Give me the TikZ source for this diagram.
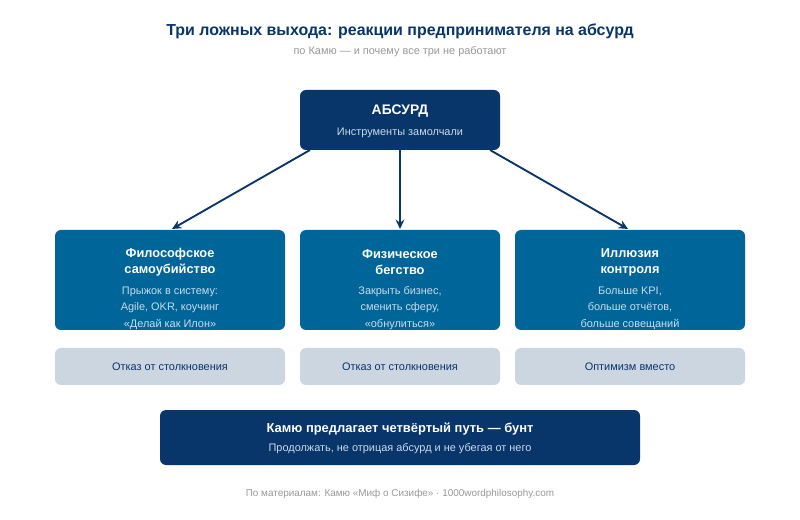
\documentclass[tikz,border=0pt]{standalone}
\usepackage{fontspec}
\setmainfont{Liberation Sans}
\usetikzlibrary{arrows.meta}
\definecolor{navy}{HTML}{08356A}
\definecolor{midblue}{HTML}{006699}
\definecolor{lightbox}{HTML}{CCD6E0}
\definecolor{paletxt}{HTML}{C9DBEA}
\definecolor{grey}{HTML}{999999}
\begin{document}
\begin{tikzpicture}[x=0.75pt,y=-0.75pt,
  navybox/.style={fill=navy,rounded corners=4.5pt,draw=none},
  bluebox/.style={fill=midblue,rounded corners=4.5pt,draw=none},
  greybox/.style={fill=lightbox,rounded corners=4.5pt,draw=none},
  boxtitle/.style={text=white,font=\bfseries\fontsize{9.6}{12}\selectfont,align=center},
  boxbody/.style={text=paletxt,font=\fontsize{8.2}{12.4}\selectfont,align=center},
  greytxt/.style={text=navy,font=\fontsize{8.2}{10}\selectfont},
  conn/.style={draw=navy,line width=1.4pt,-{Stealth[length=7pt,width=6.5pt]}}]
\useasboundingbox (0,0) rectangle (800,520);
\fill[white] (0,0) rectangle (800,520);
\node[text=navy,font=\bfseries\fontsize{11.95}{14}\selectfont] (title) at (400,31) {Три ложных выхода: реакции предпринимателя на абсурд};
\node[text=grey,font=\fontsize{8.2}{10}\selectfont] (sub) at (400,52) {по Камю — и почему все три не работают};
% absurd
\path[navybox] (300,90) rectangle (500,150);
\node[boxtitle,font=\bfseries\fontsize{10.4}{12}\selectfont] (abst) at (400,111) {АБСУРД};
\node[boxbody] (absb) at (400,133) {Инструменты замолчали};
\coordinate (absL) at (310,150);
\coordinate (absM) at (400,150);
\coordinate (absR) at (490,150);
% three boxes
\path[bluebox] (55,230) rectangle (285,330);
\path[bluebox] (300,230) rectangle (500,330);
\path[bluebox] (515,230) rectangle (745,330);
\coordinate (bL) at (172,229);
\coordinate (bM) at (400,229);
\coordinate (bR) at (628,229);
\node[boxtitle] (t1) at (170,262.5) {Философское\\самоубийство};
\node[boxbody] (b1) at (170,308) {Прыжок в систему:\\Agile, OKR, коучинг\\«Делай как Илон»};
\node[boxtitle] (t2) at (400,262.5) {Физическое\\бегство};
\node[boxbody] (b2) at (400,308) {Закрыть бизнес,\\сменить сферу,\\«обнулиться»};
\node[boxtitle] (t3) at (630,262.5) {Иллюзия\\контроля};
\node[boxbody] (b3) at (630,308) {Больше KPI,\\больше отчётов,\\больше совещаний};
% grey boxes
\path[greybox] (55,348) rectangle (285,385);
\path[greybox] (300,348) rectangle (500,385);
\path[greybox] (515,348) rectangle (745,385);
\node[greytxt] (g1) at (170,367) {Отказ от столкновения};
\node[greytxt] (g2) at (400,367) {Отказ от столкновения};
\node[greytxt] (g3) at (630,367) {Оптимизм вместо};
% bottom
\path[navybox] (160,410) rectangle (640,465);
\node[boxtitle,font=\bfseries\fontsize{9.7}{12}\selectfont] (rt) at (400,429) {Камю предлагает четвёртый путь — бунт};
\node[boxbody] (rb) at (400,448.5) {Продолжать, не отрицая абсурд и не убегая от него};
\node[text=grey,font=\fontsize{7.45}{9}\selectfont] (foot) at (400,494) {По материалам: Камю «Миф о Сизифе» · 1000wordphilosophy.com};
% arrows
\draw[conn] (absL) -- (bL);
\draw[conn] (absM) -- (bM);
\draw[conn] (absR) -- (bR);
\end{tikzpicture}
\end{document}
